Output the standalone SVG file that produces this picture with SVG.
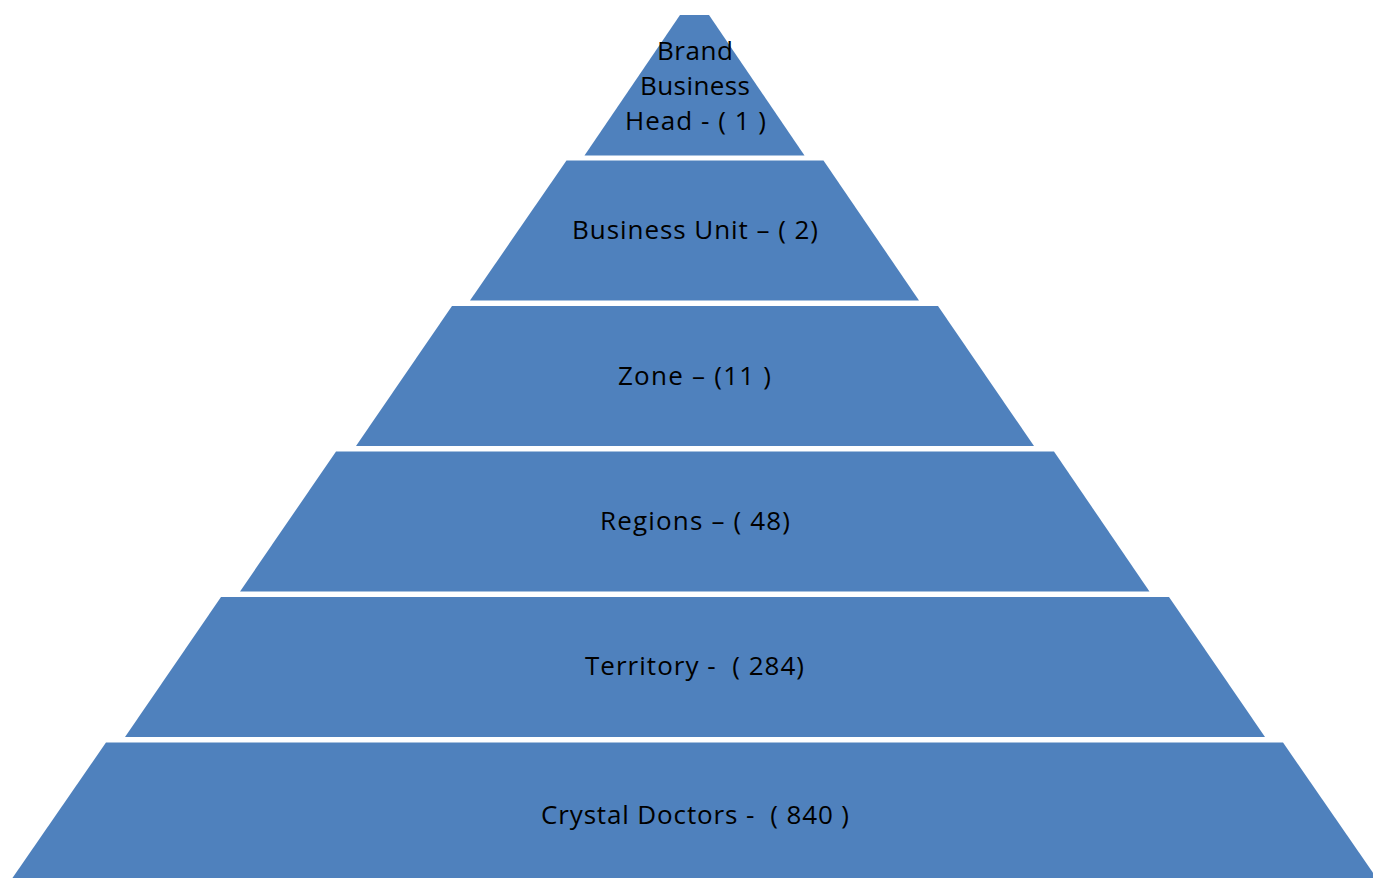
<svg xmlns="http://www.w3.org/2000/svg" width="1373" height="878" viewBox="0 0 1373 878">
<style>
.seg{fill:#4F81BD;stroke:none}
.lbl{font-family:"Open Sans","Liberation Sans",sans-serif;font-size:26px;fill:#000;text-anchor:middle;white-space:pre}
</style>
<rect width="1373" height="878" fill="#fff"/>
<g id="level1">
<polygon class="seg" points="680,15 709,15 804.5,155.5 584.5,155.5"/>
<text class="lbl" x="695" y="59.5" textLength="76">Brand</text>
<text class="lbl" x="695" y="94.5" textLength="110">Business</text>
<text class="lbl" x="695.5" y="129.5" textLength="141" xml:space="preserve">Head - ( 1 )</text>
</g>
<g id="level2">
<polygon class="seg" points="566.5,160.5 823.5,160.5 919,300.5 470,300.5"/>
<text class="lbl" x="695" y="239" textLength="246" xml:space="preserve">Business Unit – ( 2)</text>
</g>
<g id="level3">
<polygon class="seg" points="452,306 938,306 1034,446 356,446"/>
<text class="lbl" x="694.5" y="385" textLength="153" xml:space="preserve">Zone – (11 )</text>
</g>
<g id="level4">
<polygon class="seg" points="336,451.5 1054,451.5 1149.5,591.5 240,591.5"/>
<text class="lbl" x="695" y="529.5" textLength="190" xml:space="preserve">Regions – ( 48)</text>
</g>
<g id="level5">
<polygon class="seg" points="221,597 1169,597 1265,737 125,737"/>
<text class="lbl" x="694.5" y="675" textLength="219" xml:space="preserve">Territory -  ( 284)</text>
</g>
<g id="level6">
<polygon class="seg" points="106,742.5 1283,742.5 1380,883 9,883"/>
<text class="lbl" x="695" y="823.5" textLength="308" xml:space="preserve">Crystal Doctors -  ( 840 )</text>
</g>
<g id="connectors"/>
</svg>
